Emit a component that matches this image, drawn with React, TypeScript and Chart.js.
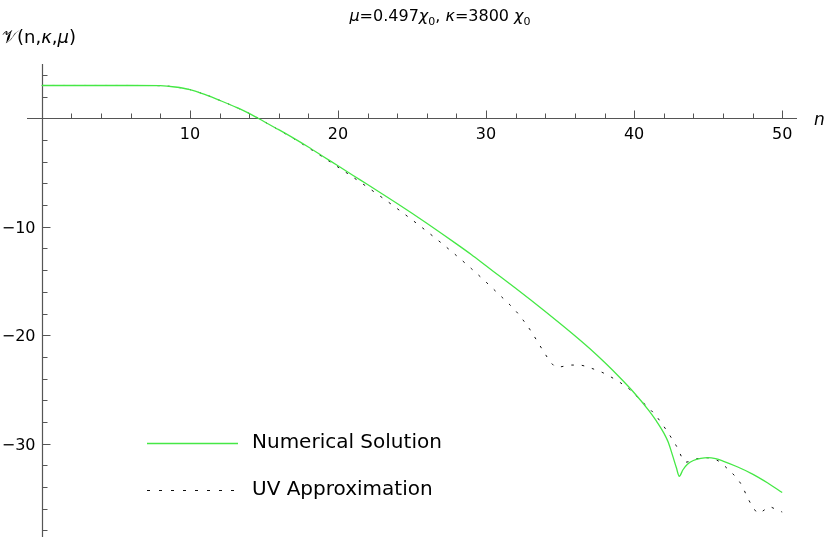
import React, { useEffect, useRef } from 'react';
import { Chart, registerables } from 'chart.js';

Chart.register(...registerables);

// Numerical solution samples (n, V)
const numN = [0, 2, 4, 6, 8, 9, 10, 11, 12, 13, 14, 15, 16, 17, 18, 19, 20, 21, 22, 23, 24, 25, 26, 27, 28, 29, 30, 31, 32, 33, 34, 35, 36, 37, 38, 39, 40, 41, 41.5, 42, 42.3, 42.6, 42.85, 43.05, 43.3, 43.6, 44, 44.5, 45, 45.5, 46, 47, 48, 49, 50];
const numV = [3.02, 3.02, 3.02, 3.02, 3.0, 2.88, 2.64, 2.2, 1.66, 1.08, 0.45, -0.3, -1.05, -1.83, -2.65, -3.52, -4.38, -5.25, -6.11, -6.98, -7.86, -8.76, -9.68, -10.62, -11.58, -12.56, -13.6, -14.64, -15.68, -16.74, -17.82, -18.92, -20.05, -21.23, -22.5, -23.85, -25.3, -26.95, -27.9, -29.0, -29.85, -31.1, -32.2, -33.0, -32.4, -31.9, -31.55, -31.35, -31.28, -31.38, -31.6, -32.15, -32.8, -33.6, -34.5];

// UV approximation samples (n, V)
const uvN = [0, 2, 4, 6, 8, 9, 10, 11, 12, 13, 14, 15, 16, 17, 18, 19, 20, 21, 22, 23, 24, 25, 26, 27, 28, 29, 30, 31, 31.5, 32, 32.5, 33, 33.5, 34, 34.4, 34.8, 35.3, 35.8, 36.3, 37, 37.8, 38.5, 39.1, 39.7, 40.3, 40.9, 41.4, 41.9, 42.3, 42.85, 43.5, 44.2, 45, 45.7, 46.3, 46.85, 47.3, 47.6, 48, 48.4, 48.8, 49.1, 49.5, 50];
const uvV = [3.02, 3.02, 3.02, 3.02, 3.0, 2.88, 2.64, 2.2, 1.66, 1.08, 0.45, -0.3, -1.07, -1.87, -2.72, -3.6, -4.5, -5.42, -6.36, -7.33, -8.33, -9.36, -10.42, -11.52, -12.66, -13.85, -15.1, -16.4, -17.05, -17.75, -18.6, -19.55, -20.65, -21.75, -22.55, -22.95, -22.85, -22.75, -22.75, -23.0, -23.4, -23.9, -24.4, -25.0, -25.8, -26.6, -27.3, -28.2, -29.0, -30.2, -31.7, -31.4, -31.3, -31.6, -32.3, -33.05, -33.9, -34.8, -35.8, -36.4, -36.1, -35.8, -36.0, -36.3];

const seriesLabels = ['Numerical Solution', 'UV Approximation'];

const xMajorTicks = [10, 20, 30, 40, 50];
const yMajorTicks = [-30, -20, -10];
const xMinorStep = 2;
const yMinorStep = 2;

const X_MIN = -1;
const X_MAX = 51;
const Y_MIN = -38.6;
const Y_MAX = 5.0;

const FONT = '"DejaVu Sans", "Liberation Sans", Arial, sans-serif';

type Seg = { t: string; italic?: boolean; sub?: boolean };
const titleSegs: Seg[] = [
  { t: 'μ', italic: true },
  { t: '=0.497' },
  { t: 'χ', italic: true },
  { t: '0', sub: true },
  { t: ', ' },
  { t: 'κ', italic: true },
  { t: '=3800 ' },
  { t: 'χ', italic: true },
  { t: '0', sub: true },
];
const yLabelSegs: Seg[] = [
  { t: '𝒱' },
  { t: '(n,' },
  { t: 'κ', italic: true },
  { t: ',' },
  { t: 'μ', italic: true },
  { t: ')' },
];

function segFont(s: Seg, size: number) {
  const sz = s.sub ? Math.round(size * 0.7) : size;
  return `${s.italic ? 'italic ' : ''}${sz}px ${FONT}`;
}

function drawSegs(ctx: CanvasRenderingContext2D, segs: Seg[], x: number, baseline: number, size: number, align: 'left' | 'center') {
  ctx.textAlign = 'left';
  ctx.textBaseline = 'alphabetic';
  let total = 0;
  for (const s of segs) {
    ctx.font = segFont(s, size);
    total += ctx.measureText(s.t).width;
  }
  let cx = align === 'center' ? x - total / 2 : x;
  for (const s of segs) {
    ctx.font = segFont(s, size);
    ctx.fillText(s.t, cx, baseline + (s.sub ? size * 0.25 : 0));
    cx += ctx.measureText(s.t).width;
  }
}

const mmaPlugin = {
  id: 'mmaAxes',
  beforeDatasetsDraw(chart: any) {
    const { ctx, chartArea } = chart;
    const xs = chart.scales.x;
    const ys = chart.scales.y;
    const x0 = Math.round(xs.getPixelForValue(0)) + 0.5;
    const y0 = Math.round(ys.getPixelForValue(0)) + 0.5;
    ctx.save();
    ctx.strokeStyle = '#555555';
    ctx.lineWidth = 1.2;
    ctx.beginPath();
    ctx.moveTo(chartArea.left, y0);
    ctx.lineTo(chartArea.right, y0);
    ctx.moveTo(x0, chartArea.top);
    ctx.lineTo(x0, chartArea.bottom);
    ctx.stroke();

    ctx.lineWidth = 1;
    ctx.beginPath();
    for (let v = xMinorStep; v <= X_MAX; v += xMinorStep) {
      const px = Math.round(xs.getPixelForValue(v)) + 0.5;
      const len = xMajorTicks.includes(v) ? 8 : 5;
      ctx.moveTo(px, y0);
      ctx.lineTo(px, y0 - len);
    }
    for (let v = Math.ceil(Y_MIN / yMinorStep) * yMinorStep; v <= Y_MAX; v += yMinorStep) {
      if (v === 0) continue;
      const py = Math.round(ys.getPixelForValue(v)) + 0.5;
      const len = yMajorTicks.includes(v) ? 8 : 5;
      ctx.moveTo(x0, py);
      ctx.lineTo(x0 + len, py);
    }
    ctx.stroke();

    ctx.fillStyle = '#000';
    ctx.font = `16px ${FONT}`;
    ctx.textBaseline = 'alphabetic';
    ctx.textAlign = 'center';
    for (const v of xMajorTicks) {
      ctx.fillText(String(v), xs.getPixelForValue(v), y0 + 20);
    }
    ctx.textAlign = 'right';
    for (const v of yMajorTicks) {
      ctx.fillText('\u2212' + String(Math.abs(v)), x0 - 7, ys.getPixelForValue(v) + 6);
    }
    ctx.font = `italic 17px ${FONT}`;
    ctx.textAlign = 'left';
    ctx.fillText('n', chartArea.right + 17, y0 + 6);

    drawSegs(ctx, titleSegs, 440, 21, 16, 'center');
    drawSegs(ctx, yLabelSegs, 2, 43, 18, 'left');
    ctx.restore();
  },
  afterDatasetsDraw(chart: any) {
    const { ctx } = chart;
    ctx.save();
    const lx0 = 147;
    const lx1 = 238;
    const rows = [443, 490];
    chart.data.datasets.forEach((ds: any, i: number) => {
      const yy = rows[i] + 0.5;
      ctx.strokeStyle = ds.borderColor;
      ctx.lineWidth = ds.borderWidth;
      ctx.setLineDash(ds.borderDash ? [3, 9] : []);
      ctx.beginPath();
      ctx.moveTo(lx0, yy);
      ctx.lineTo(lx1, yy);
      ctx.stroke();
      ctx.setLineDash([]);
      ctx.fillStyle = '#000';
      ctx.font = `20px ${FONT}`;
      ctx.textAlign = 'left';
      ctx.textBaseline = 'middle';
      ctx.fillText(ds.label, 252, rows[i]);
    });
    ctx.restore();
  },
};

export default function App() {
  const ref = useRef<HTMLCanvasElement | null>(null);
  useEffect(() => {
    if (!ref.current) return;
    const chart = new Chart(ref.current, {
      type: 'line',
      data: {
        datasets: [
          {
            label: seriesLabels[0],
            data: numN.map((n, i) => ({ x: n, y: numV[i] })),
            borderColor: '#45e845',
            borderWidth: 1.3,
            pointRadius: 0,
            fill: false,
            cubicInterpolationMode: 'monotone',
          },
          {
            label: seriesLabels[1],
            data: uvN.map((n, i) => ({ x: n, y: uvV[i] })),
            borderColor: '#111111',
            borderWidth: 1,
            borderDash: [2.5, 8],
            pointRadius: 0,
            fill: false,
            cubicInterpolationMode: 'monotone',
          },
        ],
      },
      options: {
        responsive: false,
        animation: false,
        layout: { padding: { left: 27, right: 33, top: 64, bottom: 3 } },
        scales: {
          x: { type: 'linear', min: X_MIN, max: X_MAX, display: false },
          y: { type: 'linear', min: Y_MIN, max: Y_MAX, display: false },
        },
        plugins: {
          legend: { display: false },
          tooltip: { enabled: false },
          title: { display: false },
        },
      },
      plugins: [mmaPlugin],
    } as any);
    return () => chart.destroy();
  }, []);
  return (
    <div style={{ position: 'fixed', left: 0, top: 0, width: 830, height: 540, background: '#fff' }}>
      <canvas ref={ref} width={830} height={540} style={{ display: 'block' }} />
    </div>
  );
}
